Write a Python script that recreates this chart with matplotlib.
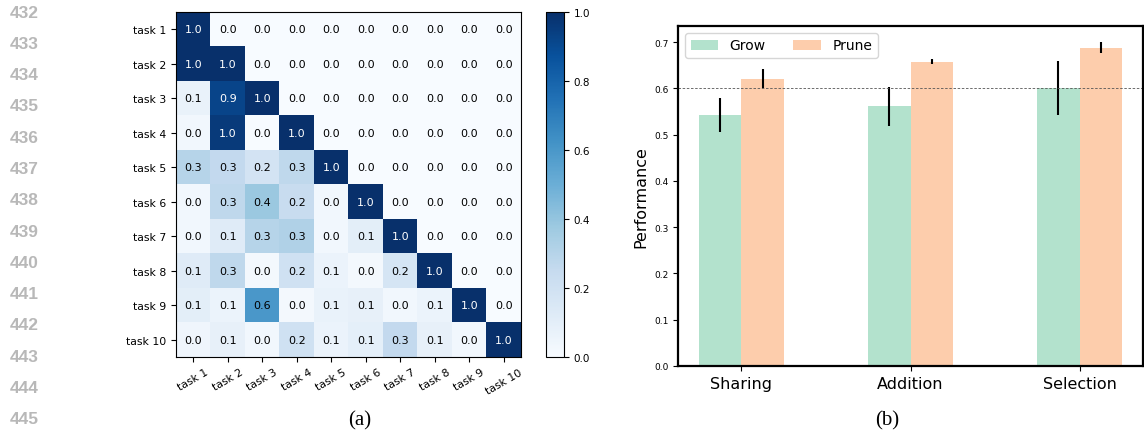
import numpy as np
import matplotlib
matplotlib.use("Agg")
import matplotlib.pyplot as plt

# (a) task similarity matrix (rows = task, cols = task)
tasks = ["task 1", "task 2", "task 3", "task 4", "task 5",
         "task 6", "task 7", "task 8", "task 9", "task 10"]
sim = np.array([
    [1.00, 0.00, 0.00, 0.00, 0.00, 0.00, 0.00, 0.00, 0.00, 0.00],
    [1.00, 1.00, 0.00, 0.00, 0.00, 0.00, 0.00, 0.00, 0.00, 0.00],
    [0.07, 0.92, 1.00, 0.00, 0.00, 0.00, 0.00, 0.00, 0.00, 0.00],
    [0.03, 0.96, 0.00, 1.00, 0.00, 0.00, 0.00, 0.00, 0.00, 0.00],
    [0.30, 0.26, 0.18, 0.27, 1.00, 0.00, 0.00, 0.00, 0.00, 0.00],
    [0.03, 0.27, 0.38, 0.24, 0.03, 1.00, 0.00, 0.00, 0.00, 0.00],
    [0.03, 0.12, 0.30, 0.32, 0.03, 0.10, 1.00, 0.00, 0.00, 0.00],
    [0.12, 0.27, 0.02, 0.20, 0.06, 0.02, 0.17, 1.00, 0.00, 0.00],
    [0.10, 0.06, 0.60, 0.02, 0.07, 0.08, 0.03, 0.06, 1.00, 0.00],
    [0.04, 0.08, 0.03, 0.20, 0.06, 0.09, 0.26, 0.08, 0.03, 1.00],
])

# (b) performance
methods = ["Sharing", "Addition", "Selection"]
grow = [0.543, 0.561, 0.601]
grow_err = [0.037, 0.043, 0.059]
prune = [0.621, 0.658, 0.688]
prune_err = [0.021, 0.005, 0.012]

W, H = 1144, 431
fig = plt.figure(figsize=(W / 100, H / 100), dpi=100)

def px(l, t, w, h):
    return [l / W, 1 - (t + h) / H, w / W, h / H]

# line numbers of the paper page
for i in range(14):
    fig.text(24 / W, 1 - (13 + 31.3 * i) / H, str(432 + i), ha="center", va="center",
             fontsize=12.5, color="#b8b8b8", family="Liberation Sans", weight="bold")

# heatmap
ax1 = fig.add_axes(px(176, 13, 345, 345))
im = ax1.imshow(sim, cmap="Blues", vmin=0, vmax=1, aspect="auto")
for r in range(sim.shape[0]):
    for c in range(sim.shape[1]):
        v = sim[r, c]
        ax1.text(c, r, f"{v:.1f}", ha="center", va="center", fontsize=8,
                 color="white" if v > 0.7 else "black")
ax1.set_xticks(range(len(tasks)))
ax1.set_xticklabels(tasks, rotation=30, fontsize=7.8)
ax1.set_yticks(range(len(tasks)))
ax1.set_yticklabels(tasks, fontsize=7.8)

cax = fig.add_axes(px(546, 13, 18, 345))
cb = fig.colorbar(im, cax=cax, ticks=[0, 0.2, 0.4, 0.6, 0.8, 1.0])
cb.ax.tick_params(labelsize=7.5)

fig.text(360 / W, 1 - 421 / H, "(a)", ha="center", va="center",
         fontsize=15, family="Liberation Serif")

# bar chart
ax2 = fig.add_axes(px(678, 27, 465, 340))
x = np.arange(len(methods))
bw = 0.25
pal = plt.get_cmap("Pastel2").colors
ax2.bar(x - bw / 2, grow, bw, yerr=grow_err, color=pal[0], label="Grow",
        error_kw=dict(elinewidth=1.5, ecolor="black"))
ax2.bar(x + bw / 2, prune, bw, yerr=prune_err, color=pal[1], label="Prune",
        error_kw=dict(elinewidth=1.5, ecolor="black"))
ax2.axhline(0.6, color="#555555", lw=0.6, linestyle=(0, (3, 2)))
ax2.set_xticks(x)
ax2.set_xticklabels(methods, fontsize=11.5)
ax2.tick_params(axis="y", labelsize=6.5)
ax2.set_ylabel("Performance", fontsize=11.5)
for s in ax2.spines.values():
    s.set_linewidth(1.6)
ax2.legend(loc="upper left", ncol=2, fontsize=10)

fig.text(887 / W, 1 - 421 / H, "(b)", ha="center", va="center",
         fontsize=15, family="Liberation Serif")

fig.savefig("out.png", dpi=100)
